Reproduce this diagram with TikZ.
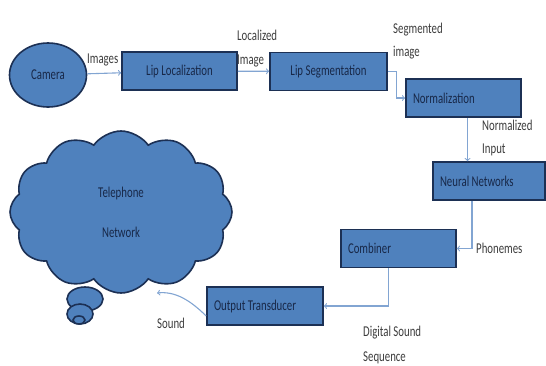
\documentclass[tikz,border=0pt]{standalone}
\usepackage{fontspec}
\setmainfont{Carlito}[FakeStretch=0.72]
\usetikzlibrary{shapes.geometric,shapes.symbols}
\definecolor{boxblue}{RGB}{79,129,189}
\definecolor{boxline}{RGB}{28,48,84}
\definecolor{boxtext}{RGB}{24,40,72}
\definecolor{linkblue}{RGB}{130,165,210}
\definecolor{labelgray}{RGB}{60,60,60}

\begin{document}
\begin{tikzpicture}[x=1pt,y=-1pt,
font=\fontsize{15}{18}\selectfont,
block/.style={draw=boxline, fill=boxblue, line width=1.6pt, rectangle, minimum height=38pt, text=boxtext},
leftblock/.style={block, align=flush left, text width=#1, inner xsep=7pt},
bubble/.style={draw=boxline, fill=boxblue, line width=1.6pt},
link/.style={->, draw=linkblue, line width=1.1pt},
tag/.style={text=labelgray, inner sep=0pt, anchor=west}
]
\useasboundingbox (0,0) rectangle (546,365);

\node[block, ellipse, minimum width=77pt, minimum height=64pt] (camera) at (48,75) {Camera};
\node[block, minimum width=115pt] (liploc) at (179.5,71) {Lip Localization};
\node[block, minimum width=117pt] (lipseg) at (328.5,71.5) {Lip Segmentation};
\node[leftblock=101pt] (norm) at (463.5,98) {Normalization};
\node[leftblock=98pt] (neural) at (489,181) {Neural Networks};
\node[leftblock=101pt] (combiner) at (398.5,248.5) {Combiner};
\node[leftblock=102pt] (output) at (265,306) {Output Transducer};

% thought bubbles under the cloud
\draw[bubble] (85,299) ellipse [x radius=18pt, y radius=12pt];
\draw[bubble] (80,314) ellipse [x radius=13pt, y radius=10pt];
\draw[bubble] (79,320) ellipse [x radius=6pt, y radius=4pt];
\node[cloud, bubble, cloud puffs=12, cloud puff arc=110, cloud ignores aspect,
  minimum width=222pt, minimum height=162pt, text=boxtext, align=center]
  (cloud) at (121,212) {Telephone\\[22pt]Network};
\coordinate (soundtip) at (157,293);

\draw[link] (camera) -- (liploc);
\draw[link] (liploc) -- (lipseg);
\draw[link] (lipseg.east) -- ++(9,0) |- (norm.west);
\draw[link] ([xshift=4pt]norm.south) -- ([xshift=4pt]norm.south |- neural.north);
\draw[link] ([xshift=-17pt]neural.south) |- (combiner.east);
\draw[link] ([xshift=-10pt]combiner.south) |- (output.east);
\draw[link] ([yshift=-10pt]output.west) .. controls (190,300) and (175,291) .. (soundtip);

\node[tag] (imagestag) at (87,60) {Images};
\node[tag] (locatag) at (237,35) {Localized};
\node[tag] (locbtag) at (237,61) {Image};
\node[tag] (segatag) at (393,30) {Segmented};
\node[tag] (segbtag) at (393,53) {image};
\node[tag] (normatag) at (482,125) {Normalized};
\node[tag] (normbtag) at (482,150) {Input};
\node[tag] (phontag) at (476,248) {Phonemes};
\node[tag] (digatag) at (363,333) {Digital Sound};
\node[tag] (digbtag) at (363,358) {Sequence};
\node[tag] (soundtag) at (157,323) {Sound};
\end{tikzpicture}
\end{document}
